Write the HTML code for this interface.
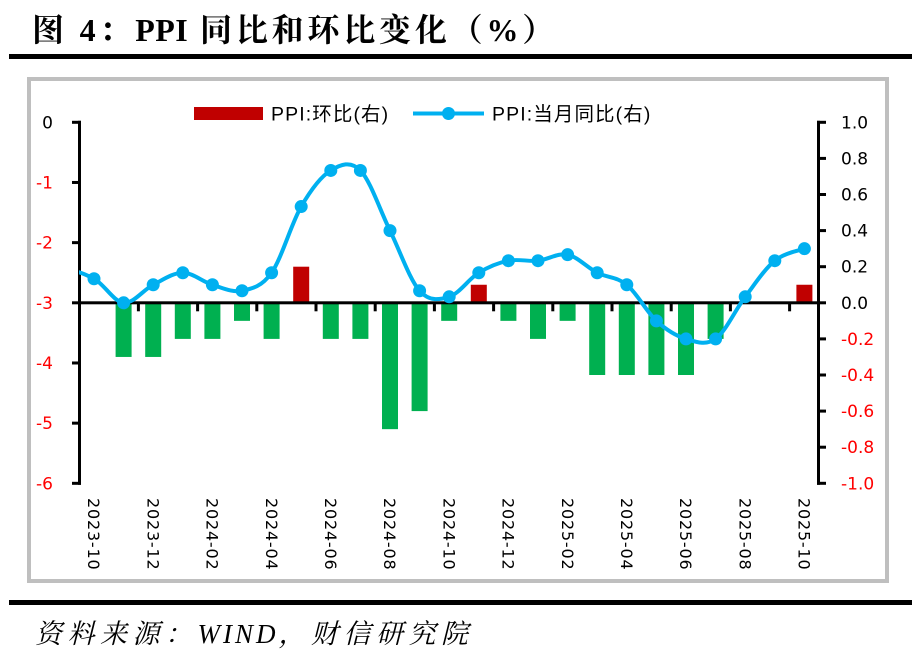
<!DOCTYPE html>
<html>
<head>
<meta charset="utf-8">
<style>
  html, body { margin: 0; padding: 0; background: #ffffff; }
  svg { display: block; }
  .ax { font-family: "DejaVu Sans", "Liberation Sans", sans-serif; font-size: 17px; }
  .xl { font-family: "DejaVu Sans", "Liberation Sans", sans-serif; font-size: 16px; letter-spacing: 0.8px; fill: #000; }
  .lg { font-family: "Liberation Sans", "Noto Sans CJK SC", sans-serif; font-size: 19.5px; letter-spacing: 1.1px; fill: #000; }
  .ttl { font-family: "Liberation Serif", "Noto Serif CJK SC", serif; font-size: 32px; font-weight: bold; letter-spacing: 3.8px; fill: #000; }
  .src { font-family: "Liberation Serif", "Noto Serif CJK SC", serif; font-size: 27px; font-style: italic; letter-spacing: 5.5px; fill: #000; }
</style>
</head>
<body>
<svg width="912" height="657" viewBox="0 0 912 657" xmlns="http://www.w3.org/2000/svg">
  <rect x="0" y="0" width="912" height="657" fill="#ffffff"/>

  <!-- Title -->
  <text class="ttl" x="32" y="41">图 4：<tspan letter-spacing="0.5px">PPI</tspan> 同比和环比变化（%）</text>
  <rect x="9" y="54" width="903" height="5" fill="#000"/>

  <!-- Chart frame -->
  <rect x="29" y="79" width="858" height="502" fill="none" stroke="#BFBFBF" stroke-width="4"/>

  <!-- Bars (right axis) -->
  <g fill="#00B050">
    <rect x="115.6" y="302.8" width="16" height="54.15"/>
    <rect x="145.2" y="302.8" width="16" height="54.15"/>
    <rect x="174.8" y="302.8" width="16" height="36.1"/>
    <rect x="204.4" y="302.8" width="16" height="36.1"/>
    <rect x="234" y="302.8" width="16" height="18.05"/>
    <rect x="263.6" y="302.8" width="16" height="36.1"/>
    <rect x="322.8" y="302.8" width="16" height="36.1"/>
    <rect x="352.4" y="302.8" width="16" height="36.1"/>
    <rect x="382" y="302.8" width="16" height="126.35"/>
    <rect x="411.6" y="302.8" width="16" height="108.3"/>
    <rect x="441.2" y="302.8" width="16" height="18.05"/>
    <rect x="500.4" y="302.8" width="16" height="18.05"/>
    <rect x="530" y="302.8" width="16" height="36.1"/>
    <rect x="559.6" y="302.8" width="16" height="18.05"/>
    <rect x="589.2" y="302.8" width="16" height="72.2"/>
    <rect x="618.8" y="302.8" width="16" height="72.2"/>
    <rect x="648.4" y="302.8" width="16" height="72.2"/>
    <rect x="678" y="302.8" width="16" height="72.2"/>
    <rect x="707.6" y="302.8" width="16" height="36.1"/>
  </g>
  <g fill="#C00000">
    <rect x="293.2" y="266.7" width="16" height="36.1"/>
    <rect x="470.8" y="284.75" width="16" height="18.05"/>
    <rect x="796.4" y="284.75" width="16" height="18.05"/>
  </g>

  <!-- Zero line / category axis -->
  <rect x="79" y="301.3" width="741" height="3" fill="#000"/>
  <g fill="#000">
    <rect x="136.9" y="302.8" width="3" height="8.5"/>
    <rect x="196.1" y="302.8" width="3" height="8.5"/>
    <rect x="255.3" y="302.8" width="3" height="8.5"/>
    <rect x="314.5" y="302.8" width="3" height="8.5"/>
    <rect x="373.7" y="302.8" width="3" height="8.5"/>
    <rect x="432.9" y="302.8" width="3" height="8.5"/>
    <rect x="492.1" y="302.8" width="3" height="8.5"/>
    <rect x="551.3" y="302.8" width="3" height="8.5"/>
    <rect x="610.5" y="302.8" width="3" height="8.5"/>
    <rect x="669.7" y="302.8" width="3" height="8.5"/>
    <rect x="728.9" y="302.8" width="3" height="8.5"/>
    <rect x="788.1" y="302.8" width="3" height="8.5"/>
  </g>

  <!-- Left axis -->
  <g fill="#000">
    <rect x="78" y="120.8" width="3" height="364"/>
    <rect x="72" y="120.8" width="9" height="3"/>
    <rect x="72" y="180.97" width="9" height="3"/>
    <rect x="72" y="241.14" width="9" height="3"/>
    <rect x="72" y="301.31" width="9" height="3"/>
    <rect x="72" y="361.48" width="9" height="3"/>
    <rect x="72" y="421.65" width="9" height="3"/>
    <rect x="72" y="481.82" width="9" height="3"/>
  </g>
  <!-- Right axis -->
  <g fill="#000">
    <rect x="817" y="120.8" width="3" height="364"/>
    <rect x="817" y="120.8" width="9" height="3"/>
    <rect x="817" y="156.9" width="9" height="3"/>
    <rect x="817" y="193.0" width="9" height="3"/>
    <rect x="817" y="229.1" width="9" height="3"/>
    <rect x="817" y="265.2" width="9" height="3"/>
    <rect x="817" y="301.3" width="9" height="3"/>
    <rect x="817" y="337.4" width="9" height="3"/>
    <rect x="817" y="373.5" width="9" height="3"/>
    <rect x="817" y="409.6" width="9" height="3"/>
    <rect x="817" y="445.7" width="9" height="3"/>
    <rect x="817" y="481.8" width="9" height="3"/>
  </g>

  <!-- Line series -->
  <defs>
    <clipPath id="pc"><rect x="79" y="80" width="800" height="480"/></clipPath>
  </defs>
  <path clip-path="url(#pc)" fill="none" stroke="#00B0F0" stroke-width="4" stroke-linejoin="round" stroke-linecap="round"
    d="M64.4,272.73
       C74.27,268.72 84.13,273.73 94,278.74
       C103.87,283.75 113.73,301.81 123.6,302.81
       C133.47,303.81 143.33,289.77 153.2,284.76
       C163.07,279.75 172.93,272.73 182.8,272.73
       C192.67,272.73 202.53,281.75 212.4,284.76
       C222.27,287.77 232.13,292.79 242,290.78
       C251.87,288.77 261.73,286.77 271.6,272.73
       C281.47,258.69 291.33,223.59 301.2,206.54
       C311.07,189.49 320.93,176.46 330.8,170.44
       C340.67,164.42 350.53,160.41 360.4,170.44
       C370.27,180.47 380.13,210.55 390,230.61
       C399.87,250.67 409.73,279.75 419.6,290.78
       C429.47,301.81 439.33,299.80 449.2,296.79
       C459.07,293.78 468.93,278.75 478.8,272.73
       C488.67,266.71 498.53,262.70 508.4,260.69
       C518.27,258.68 528.13,261.69 538,260.69
       C547.87,259.69 557.73,252.66 567.6,254.67
       C577.47,256.68 587.33,267.71 597.2,272.73
       C607.07,277.75 616.93,276.74 626.8,284.76
       C636.67,292.78 646.53,311.83 656.4,320.86
       C666.27,329.89 676.13,335.90 686,338.91
       C695.87,341.92 705.73,345.93 715.6,338.91
       C725.47,331.89 735.33,309.83 745.2,296.79
       C755.07,283.75 764.93,268.71 774.8,260.69
       C784.67,252.67 799.47,250.67 804.4,248.66"/>
  <g fill="#00B0F0">
    <circle cx="94" cy="278.74" r="6.5"/>
    <circle cx="123.6" cy="302.81" r="6.5"/>
    <circle cx="153.2" cy="284.76" r="6.5"/>
    <circle cx="182.8" cy="272.73" r="6.5"/>
    <circle cx="212.4" cy="284.76" r="6.5"/>
    <circle cx="242" cy="290.78" r="6.5"/>
    <circle cx="271.6" cy="272.73" r="6.5"/>
    <circle cx="301.2" cy="206.54" r="6.5"/>
    <circle cx="330.8" cy="170.44" r="6.5"/>
    <circle cx="360.4" cy="170.44" r="6.5"/>
    <circle cx="390" cy="230.61" r="6.5"/>
    <circle cx="419.6" cy="290.78" r="6.5"/>
    <circle cx="449.2" cy="296.79" r="6.5"/>
    <circle cx="478.8" cy="272.73" r="6.5"/>
    <circle cx="508.4" cy="260.69" r="6.5"/>
    <circle cx="538" cy="260.69" r="6.5"/>
    <circle cx="567.6" cy="254.67" r="6.5"/>
    <circle cx="597.2" cy="272.73" r="6.5"/>
    <circle cx="626.8" cy="284.76" r="6.5"/>
    <circle cx="656.4" cy="320.86" r="6.5"/>
    <circle cx="686" cy="338.91" r="6.5"/>
    <circle cx="715.6" cy="338.91" r="6.5"/>
    <circle cx="745.2" cy="296.79" r="6.5"/>
    <circle cx="774.8" cy="260.69" r="6.5"/>
    <circle cx="804.4" cy="248.66" r="6.5"/>
  </g>

  <!-- Left axis labels -->
  <g class="ax" text-anchor="end">
    <text x="53" y="128.3" fill="#000">0</text>
    <text x="53" y="188.5" fill="#FF0000">-1</text>
    <text x="53" y="248.6" fill="#FF0000">-2</text>
    <text x="53" y="308.8" fill="#FF0000">-3</text>
    <text x="53" y="369.0" fill="#FF0000">-4</text>
    <text x="53" y="429.2" fill="#FF0000">-5</text>
    <text x="53" y="489.3" fill="#FF0000">-6</text>
  </g>
  <!-- Right axis labels -->
  <g class="ax" text-anchor="start">
    <text x="841" y="128.3" fill="#000">1.0</text>
    <text x="841" y="164.4" fill="#000">0.8</text>
    <text x="841" y="200.5" fill="#000">0.6</text>
    <text x="841" y="236.6" fill="#000">0.4</text>
    <text x="841" y="272.7" fill="#000">0.2</text>
    <text x="841" y="308.8" fill="#000">0.0</text>
    <text x="841" y="344.9" fill="#FF0000">-0.2</text>
    <text x="841" y="381.0" fill="#FF0000">-0.4</text>
    <text x="841" y="417.1" fill="#FF0000">-0.6</text>
    <text x="841" y="453.2" fill="#FF0000">-0.8</text>
    <text x="841" y="489.3" fill="#FF0000">-1.0</text>
  </g>

  <!-- Category labels (rotated) -->
  <g class="xl">
    <text transform="translate(94,498) rotate(90)" x="0" y="5.8">2023-10</text>
    <text transform="translate(153.2,498) rotate(90)" x="0" y="5.8">2023-12</text>
    <text transform="translate(212.4,498) rotate(90)" x="0" y="5.8">2024-02</text>
    <text transform="translate(271.6,498) rotate(90)" x="0" y="5.8">2024-04</text>
    <text transform="translate(330.8,498) rotate(90)" x="0" y="5.8">2024-06</text>
    <text transform="translate(390,498) rotate(90)" x="0" y="5.8">2024-08</text>
    <text transform="translate(449.2,498) rotate(90)" x="0" y="5.8">2024-10</text>
    <text transform="translate(508.4,498) rotate(90)" x="0" y="5.8">2024-12</text>
    <text transform="translate(567.6,498) rotate(90)" x="0" y="5.8">2025-02</text>
    <text transform="translate(626.8,498) rotate(90)" x="0" y="5.8">2025-04</text>
    <text transform="translate(686,498) rotate(90)" x="0" y="5.8">2025-06</text>
    <text transform="translate(745.2,498) rotate(90)" x="0" y="5.8">2025-08</text>
    <text transform="translate(804.4,498) rotate(90)" x="0" y="5.8">2025-10</text>
  </g>

  <!-- Legend -->
  <rect x="194" y="107" width="69" height="13" fill="#C00000"/>
  <text class="lg" x="271" y="120.5">PPI:环比(右)</text>
  <line x1="413" y1="113.5" x2="484" y2="113.5" stroke="#00B0F0" stroke-width="4"/>
  <circle cx="448.5" cy="113.5" r="6.5" fill="#00B0F0"/>
  <text class="lg" x="492" y="120.5">PPI:当月同比(右)</text>

  <!-- Bottom rule and source -->
  <rect x="9" y="600" width="903" height="5" fill="#000"/>
  <text class="src" x="35" y="643">资料来源：<tspan letter-spacing="3px">WIND</tspan>，财信研究院</text>
</svg>
</body>
</html>
